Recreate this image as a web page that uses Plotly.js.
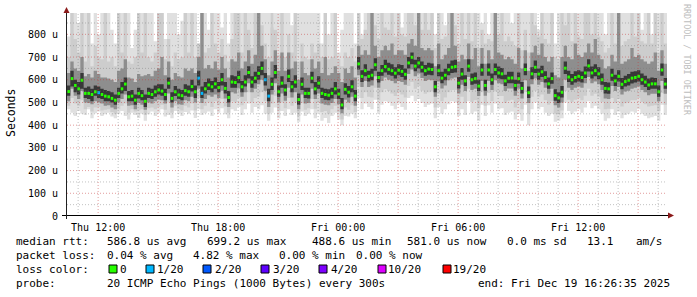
<!DOCTYPE html>
<html><head><meta charset="utf-8">
<script src="https://cdn.plot.ly/plotly-3.0.1.min.js"></script>
<style>html,body{margin:0;padding:0;background:#fff}#chart{width:697px;height:297px}</style>
</head><body><div id="chart"></div>
<script>
// ---- time base ----
const startTime = '2025-12-18T10:26:35Z';
const endTime = '2025-12-19T16:26:35Z';
const stepMinutes = 10;

// ---- median RTT (microseconds) per 10-minute step ----
const median = [
548,605,575,560,598,540,540,535,547,543,535,528,
525,518,510,540,560,581,525,528,510,540,530,505,
540,535,547,555,550,535,585,518,547,533,530,552,
547,570,547,607,540,560,577,569,582,566,600,562,
522,590,588,610,569,590,632,590,607,628,650,600,
528,580,632,547,585,555,615,569,590,513,580,540,
540,607,560,585,540,535,532,540,560,537,489,558,
545,569,528,670,615,640,615,620,666,610,640,658,
646,640,629,642,637,624,674,699,660,674,655,640,
647,645,569,640,607,620,644,655,658,585,625,595,
660,600,605,572,643,575,643,600,645,630,626,595,
607,608,575,605,562,645,543,626,655,625,635,610,
582,605,530,520,545,651,612,600,610,615,610,630,
661,630,640,626,600,562,560,620,595,615,580,592,
598,607,610,615,600,590,577,582,582,547,643,581];

// ---- lost pings out of 20 per step ----
const lossCount = [
0,0,0,0,0,0,0,0,0,1,0,0, 0,0,0,0,0,0,0,0,0,0,0,0,
0,0,0,0,0,0,0,0,0,0,0,0, 0,0,0,1,1,0,0,0,0,0,0,0,
0,0,0,0,0,0,0,0,0,0,0,1, 1,0,0,0,0,0,0,0,0,0,0,0,
0,0,0,0,0,0,0,0,0,0,0,0, 0,0,0,0,0,0,0,0,0,0,0,0,
0,0,0,0,0,0,0,0,0,0,0,0, 0,0,0,0,0,0,0,0,0,0,0,0,
0,0,0,0,0,0,0,0,0,0,0,0, 0,0,0,0,0,0,0,0,0,0,0,0,
0,0,0,0,0,0,0,0,0,0,0,0, 0,0,0,0,0,0,0,0,0,0,0,0,
0,0,0,0,0,0,0,0,0,0,0,0];

// ---- smoke: spread of the 20 pings (900 = off the top of the scale) ----
const smokeLo = [
470,455,440,462,450,445,470,430,452,460,440,448,
455,438,430,450,462,440,425,455,445,432,450,420,
448,460,440,455,470,438,445,430,462,450,440,458,
450,465,432,470,445,452,460,440,470,455,475,448,
430,470,462,480,445,470,495,455,480,470,488,450,
420,455,478,430,462,440,470,445,455,415,460,440,
450,470,430,455,420,432,410,440,455,425,400,440,
438,450,430,520,470,495,480,470,512,455,490,505,
500,485,470,495,480,468,520,530,505,515,498,480,
490,495,430,480,450,470,492,505,500,440,470,445,
505,450,460,420,490,440,488,455,495,470,475,445,
455,460,425,450,420,490,400,470,500,470,480,455,
440,450,415,420,430,500,462,450,460,470,455,478,
505,475,485,470,450,420,430,470,445,460,430,445,
450,460,455,470,450,440,430,435,440,420,490,445];
const smokeHi = [
790,900,900,850,900,900,900,760,900,800,900,900,
900,820,760,900,900,900,900,740,820,900,900,900,
900,900,770,900,900,780,900,900,900,800,860,900,
900,900,900,760,900,900,820,900,900,900,830,900,
760,900,900,900,900,900,900,900,900,900,900,900,
900,830,900,900,900,900,900,840,900,900,900,900,
900,900,900,900,760,900,800,900,900,720,820,900,
900,900,760,900,800,900,900,900,900,900,900,900,
900,900,900,900,830,900,900,900,900,900,900,900,
900,900,800,900,900,840,900,900,900,900,900,900,
900,900,900,900,850,900,800,900,900,900,900,900,
900,850,900,900,900,900,900,900,900,820,900,900,
900,900,760,900,900,900,900,900,900,900,900,900,
900,900,900,900,900,800,900,900,900,900,900,900,
900,900,900,900,820,900,900,800,900,900,900,900];
const smoke2Lo = [
485,520,495,485,510,470,480,460,478,480,465,468,
470,458,450,470,485,495,455,470,460,465,470,445,
475,478,470,480,490,468,500,455,485,470,465,485,
478,495,465,520,470,485,500,480,505,488,515,482,
455,505,500,520,488,505,545,500,520,525,545,505,
450,495,530,465,500,475,520,485,500,440,498,468,
474,515,472,498,458,462,450,470,485,458,425,478,
468,488,458,570,520,545,525,522,565,510,545,558,
550,540,528,545,535,522,572,590,560,572,552,538,
545,548,478,538,505,522,545,555,555,490,525,498,
560,502,510,475,545,485,542,505,548,528,528,498,
508,512,478,505,470,545,450,525,552,525,535,510,
490,505,450,448,465,550,512,502,512,520,510,530,
560,530,538,525,502,470,472,520,498,515,482,496,
500,510,510,520,502,492,482,486,488,462,542,490];
const smoke2Hi = [
700,900,780,720,900,680,900,660,750,700,690,900,
680,700,660,900,720,900,680,670,700,900,720,900,
700,680,720,900,900,690,780,660,720,690,700,900,
720,900,700,760,900,720,740,900,760,720,780,710,
680,780,900,900,720,900,820,740,900,900,840,760,
700,900,820,710,900,700,800,720,900,680,760,700,
690,760,720,760,700,900,690,700,900,690,660,720,
700,740,680,900,780,820,900,900,840,780,900,830,
820,900,790,900,800,790,900,900,840,900,820,900,
820,900,740,900,780,790,900,900,840,760,900,780,
900,770,900,740,820,760,780,770,900,800,900,770,
790,770,750,900,730,820,720,900,840,790,900,780,
760,900,700,690,900,840,900,770,900,790,780,900,
900,800,900,790,770,720,740,900,760,900,750,770,
780,900,790,900,770,760,900,760,900,720,900,760];
const smoke3Lo = [
505,560,530,515,550,500,498,492,505,500,495,485,
488,478,470,500,515,535,485,488,470,498,490,468,
500,495,505,512,510,495,540,478,505,492,490,510,
505,525,500,560,498,515,532,525,535,520,552,518,
480,545,540,562,525,545,585,545,560,580,600,552,
480,535,585,500,540,508,565,522,545,470,535,495,
498,560,515,540,495,490,488,498,515,492,452,512,
500,525,485,620,568,595,568,575,615,565,595,610,
600,595,585,595,590,578,625,645,615,628,608,595,
600,598,525,592,562,575,598,605,610,540,578,550,
612,555,560,528,595,530,595,555,598,585,580,550,
562,562,530,560,518,598,498,580,605,578,590,565,
538,560,488,478,500,600,565,555,565,570,565,585,
612,585,592,580,555,518,515,572,550,568,535,548,
552,560,565,570,555,545,532,538,538,505,595,538];
const smoke3Hi = [
630,680,650,640,700,615,625,610,640,625,610,610,
605,600,590,640,650,690,610,605,590,625,615,620,
625,615,640,650,700,620,680,600,630,615,610,650,
640,650,630,700,900,650,665,650,680,645,700,650,
610,690,680,720,650,680,730,670,710,900,750,690,
620,680,730,640,720,640,720,650,680,600,680,630,
620,690,650,680,630,700,620,630,660,630,590,650,
630,660,610,750,710,730,710,900,750,700,730,750,
730,760,710,730,730,710,760,780,750,900,740,730,
740,730,660,760,690,710,740,900,750,680,710,690,
760,690,740,660,740,670,730,690,900,720,710,690,
700,690,670,740,650,730,640,720,750,710,760,700,
680,700,620,610,700,750,700,690,760,710,700,720,
760,720,780,710,690,650,660,710,680,900,670,680,
690,740,700,710,690,680,670,680,720,640,730,670];
const coreLo = [
530,570,545,535,560,520,515,505,530,520,515,505,
505,500,490,520,540,550,505,505,490,518,510,480,
520,515,525,535,530,510,560,500,528,515,510,530,
525,548,520,575,520,540,555,545,560,545,575,540,
500,565,565,585,545,570,605,565,585,600,620,575,
505,555,605,525,565,530,590,545,565,490,555,520,
518,585,535,560,520,512,510,518,535,515,470,535,
522,545,505,645,590,615,592,598,640,588,618,632,
622,618,605,620,612,600,650,668,638,650,632,618,
622,620,545,615,585,598,620,630,632,562,600,572,
635,578,582,550,618,552,618,578,620,606,602,572,
585,585,552,582,540,620,520,602,630,600,612,588,
560,582,508,498,522,625,590,578,588,592,588,608,
636,606,615,602,578,540,538,596,572,592,558,570,
575,584,588,592,578,568,555,560,560,525,618,560];
const coreHi = [
575,640,600,590,630,565,570,560,575,570,560,555,
550,545,535,565,590,610,550,555,535,565,555,535,
565,560,575,580,580,560,610,545,572,560,555,580,
575,600,575,640,570,590,605,595,610,590,630,590,
550,620,615,640,595,620,660,615,635,660,680,630,
560,610,665,575,615,580,645,595,620,540,610,565,
565,635,590,615,565,560,558,565,590,560,520,585,
572,598,555,700,642,668,640,648,695,635,665,688,
675,668,655,668,665,650,700,720,688,700,680,665,
675,672,595,668,635,648,670,685,688,612,652,620,
690,628,632,600,670,600,672,628,672,658,652,622,
635,635,600,632,590,672,570,655,685,650,662,638,
610,632,558,545,572,680,640,625,638,642,636,658,
690,658,668,655,628,590,588,648,622,642,608,618,
625,635,638,642,628,618,605,610,608,575,672,608];

// ---- axis / legend text ----
const yTickValues = [0,100,200,300,400,500,600,700,800];
const yTickLabels = ['0','100 u','200 u','300 u','400 u','500 u','600 u','700 u','800 u'];
const xTickValues = ['2025-12-18 12:00','2025-12-18 18:00','2025-12-19 00:00','2025-12-19 06:00','2025-12-19 12:00'];
const xTickLabels = ['Thu 12:00','Thu 18:00','Fri 00:00','Fri 06:00','Fri 12:00'];
const lossLevels = [0,1,2,3,4,10,19];
const lossLabels = ['0','1/20','2/20','3/20','4/20','10/20','19/20'];
const lossColors = ['#26ff00','#00b8ff','#0059ff','#5e00ff','#7e00ff','#dd00ff','#ff0000'];
const rttStats = ['median rtt:','586.8 us avg','699.2 us max','488.6 us min','581.0 us now','0.0 ms sd','13.1','am/s'];
const lossStats = ['packet loss:','0.04 % avg','4.82 % max','0.00 % min','0.00 % now'];
const probeText = ['probe:','20 ICMP Echo Pings (1000 Bytes) every 300s','end: Fri Dec 19 16:26:35 2025'];

// ---- build ----
const W = 697, H = 297, L = 67, T = 13, PW = 600, PH = 203;
const px = x => (x - L) / PW;
const py = y => (T + PH - y) / PH;
const t0 = Date.parse(startTime), t1 = Date.parse(endTime), stepMs = stepMinutes * 60000;
const fmt = ms => new Date(ms).toISOString().replace('T', ' ').slice(0, 23);
const xs = median.map((_, i) => fmt(t0 + i * stepMs));
const xsStep = xs.concat([fmt(t1)]);
const ext = a => a.concat([a[a.length - 1]]);

const traces = [];
function band(lo, hi, color) {
  traces.push({x: xsStep, y: ext(lo), type: 'scatter', mode: 'lines', line: {width: 0, shape: 'hv'}, hoverinfo: 'skip', showlegend: false});
  traces.push({x: xsStep, y: ext(hi), type: 'scatter', mode: 'lines', line: {width: 0, shape: 'hv'}, fill: 'tonexty', fillcolor: color, hoverinfo: 'skip', showlegend: false});
}
band(smokeLo, smokeHi, '#e0e0e0');
band(smoke2Lo, smoke2Hi, '#cdcdcd');
band(smoke3Lo, smoke3Hi, '#8e8e8e');
band(coreLo, coreHi, '#383838');

// median marks, coloured by packet loss
lossLevels.forEach((lev, k) => {
  const next = k + 1 < lossLevels.length ? lossLevels[k + 1] : 99;
  const mx = [], my = [];
  median.forEach((m, i) => {
    if (lossCount[i] >= lev && lossCount[i] < next) {
      const a = t0 + i * stepMs;
      mx.push(fmt(a + stepMs * 0.12), fmt(a + stepMs * 0.88), null);
      my.push(m, m, null);
    }
  });
  if (!mx.length) return;
  traces.push({type: 'scatter', mode: 'lines', x: mx, y: my, connectgaps: false,
    line: {color: lossColors[k], width: 3}, hoverinfo: 'skip', showlegend: false});
});

const shapes = [];
// grid on top of the smoke, like rrdtool
for (let v = 50; v < 894; v += 50) {
  shapes.push({type: 'line', layer: 'above', xref: 'paper', yref: 'y', x0: 0, x1: 1, y0: v, y1: v,
    line: {width: 1, dash: '1px,2px', color: v % 100 === 0 ? 'rgba(200,60,60,0.5)' : 'rgba(120,120,120,0.45)'}});
}
for (let t = Math.ceil(t0 / 3600000) * 3600000; t < t1; t += 3600000) {
  const hr = new Date(t).getUTCHours();
  shapes.push({type: 'line', layer: 'above', xref: 'x', yref: 'paper', x0: fmt(t), x1: fmt(t), y0: 0, y1: 1,
    line: {width: 1, dash: '1px,2px', color: hr % 3 === 0 ? 'rgba(200,60,60,0.5)' : 'rgba(120,120,120,0.45)'}});
}
// axes with arrows
shapes.push({type: 'line', layer: 'above', xref: 'paper', yref: 'paper', x0: px(62), x1: px(668), y0: py(215.5), y1: py(215.5), line: {width: 1, color: '#000'}});
shapes.push({type: 'line', layer: 'above', xref: 'paper', yref: 'paper', x0: px(66.5), x1: px(66.5), y0: py(219), y1: py(12), line: {width: 1, color: '#202020'}});
shapes.push({type: 'path', layer: 'above', xref: 'paper', yref: 'paper',
  path: `M ${px(668)} ${py(212.5)} L ${px(674)} ${py(215.5)} L ${px(668)} ${py(218.5)} Z`, fillcolor: '#8b1a1a', line: {width: 0}});
shapes.push({type: 'path', layer: 'above', xref: 'paper', yref: 'paper',
  path: `M ${px(63.5)} ${py(13)} L ${px(66.5)} ${py(7)} L ${px(69.5)} ${py(13)} Z`, fillcolor: '#8b1a1a', line: {width: 0}});

const mono = 'DejaVu Sans Mono';
const fs = 11;
const ann = [];
function txt(x, y, text, size, extra) {
  ann.push(Object.assign({xref: 'paper', yref: 'paper', x: px(x), y: py(y), text: text, showarrow: false,
    xanchor: 'left', yanchor: 'middle', font: {family: mono, size: size, color: '#000'}}, extra || {}));
}
const rttX = [16, 107, 207, 311.5, 406.5, 507, 586.5, 636];
rttStats.forEach((s, i) => txt(rttX[i] - 2, 241.5, s, fs));
const lossX = [16, 107, 193, 279, 356];
lossStats.forEach((s, i) => txt(lossX[i] - 2, 255.5, s, fs));
txt(14, 269.5, 'loss color:', fs);
const sqX = [109, 146, 203, 261, 319, 378, 443];
const lblX = [120, 157, 215, 273, 331, 388, 453];
lossLabels.forEach((s, i) => {
  txt(lblX[i] - 2, 269.5, s, fs);
  shapes.push({type: 'rect', xref: 'paper', yref: 'paper', x0: px(sqX[i]), x1: px(sqX[i] + 8), y0: py(273), y1: py(265),
    fillcolor: lossColors[i], line: {width: 1, color: '#000'}});
});
txt(14, 283.5, probeText[0], fs);
txt(105, 283.5, probeText[1], fs);
txt(476, 283.5, probeText[2], fs);
ann.push({xref: 'paper', yref: 'paper', x: px(11), y: py(113), text: 'Seconds', showarrow: false, textangle: -90,
  xanchor: 'center', yanchor: 'middle', font: {family: mono, size: 11.5, color: '#000'}});
ann.push({xref: 'paper', yref: 'paper', x: px(687), y: py(60), text: 'RRDTOOL / TOBI OETIKER', showarrow: false, textangle: 90,
  xanchor: 'center', yanchor: 'middle', font: {family: mono, size: 8.4, color: '#bdbdbd'}});

const layout = {
  width: W, height: H, margin: {l: L, r: W - L - PW, t: T, b: H - T - PH},
  paper_bgcolor: '#fff', plot_bgcolor: '#fff', showlegend: false,
  xaxis: {type: 'date', range: [fmt(t0), fmt(t1)], showgrid: false, zeroline: false, showline: false,
    tickmode: 'array', tickvals: xTickValues, ticktext: xTickLabels, ticks: '', ticklabelstandoff: 4,
    tickfont: {family: mono, size: 10, color: '#000'}},
  yaxis: {range: [0, 894], showgrid: false, zeroline: false, showline: false,
    tickmode: 'array', tickvals: yTickValues, ticktext: yTickLabels, ticks: '', ticklabelstandoff: 8,
    tickfont: {family: mono, size: 10, color: '#000'}},
  shapes: shapes, annotations: ann
};
Plotly.newPlot('chart', traces, layout, {staticPlot: true, displayModeBar: false});
</script></body></html>
